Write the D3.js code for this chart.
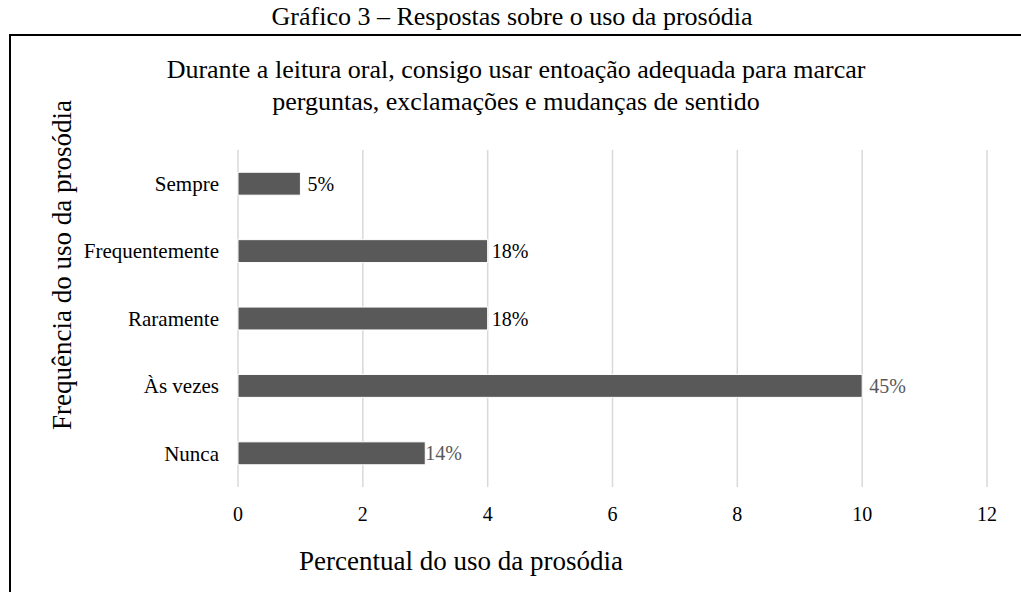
<!DOCTYPE html>
<html>
<head>
<meta charset="utf-8">
<script src="https://cdn.jsdelivr.net/npm/d3@7"></script>
<style>
  body { margin: 0; background: #fff; }
  svg { font-family: "Liberation Serif", "Times New Roman", serif; }
</style>
</head>
<body>
<svg id="chart" width="1021" height="592"></svg>
<script>
// data
var categories = ["Sempre", "Frequentemente", "Raramente", "Às vezes", "Nunca"];
var values = [1, 4, 4, 10, 3];
var percentLabels = ["5%", "18%", "18%", "45%", "14%"];
var xTicks = [0, 2, 4, 6, 8, 10, 12];

var caption = "Gráfico 3 – Respostas sobre o uso da prosódia";
var titleLines = ["Durante a leitura oral, consigo usar entoação adequada para marcar",
                  "perguntas, exclamações e mudanças de sentido"];
var xTitle = "Percentual do uso da prosódia";
var yTitle = "Frequência do uso da prosódia";

var svg = d3.select("#chart");

var margin = {left: 238, right: 34, top: 150, bottom: 105};
var W = 1021, H = 592;

var x = d3.scaleLinear()
          .domain([0, 12])
          .range([margin.left, W - margin.right]);

var y = d3.scaleBand()
          .domain(categories)
          .range([margin.top, H - margin.bottom])
          .paddingInner(0.66)
          .paddingOuter(0.33);

// caption above the frame
svg.append("text")
   .attr("x", 512)
   .attr("y", 25)
   .attr("text-anchor", "middle")
   .style("font-size", "26px")
   .text(caption);

// frame (runs off the right and bottom edge)
svg.append("path")
   .attr("d", "M10,600 L10,35 L1030,35")
   .attr("fill", "none")
   .attr("stroke", "#000")
   .attr("stroke-width", 2);

// chart title
svg.selectAll(".title")
   .data(titleLines)
   .enter()
   .append("text")
   .attr("class", "title")
   .attr("x", 516)
   .attr("y", (d, i) => 78 + i * 32)
   .attr("text-anchor", "middle")
   .style("font-size", "26px")
   .text(d => d);

// vertical gridlines
svg.selectAll(".grid")
   .data(xTicks)
   .enter()
   .append("line")
   .attr("class", "grid")
   .attr("x1", d => x(d))
   .attr("x2", d => x(d))
   .attr("y1", margin.top)
   .attr("y2", H - margin.bottom)
   .attr("stroke", "#d9d9d9")
   .attr("stroke-width", 1.5);

// x axis tick labels
svg.selectAll(".xtick")
   .data(xTicks)
   .enter()
   .append("text")
   .attr("class", "xtick")
   .attr("x", d => x(d))
   .attr("y", 521)
   .attr("text-anchor", "middle")
   .style("font-size", "20px")
   .text(d => d);

// bars
svg.selectAll(".bar")
   .data(values)
   .enter()
   .append("rect")
   .attr("class", "bar")
   .attr("x", x(0))
   .attr("y", (d, i) => y(categories[i]))
   .attr("width", d => x(d) - x(0))
   .attr("height", y.bandwidth())
   .attr("fill", "#595959")
   .attr("stroke", "#fff")
   .attr("stroke-width", 1);

// category labels
svg.selectAll(".cat")
   .data(categories)
   .enter()
   .append("text")
   .attr("class", "cat")
   .attr("x", x(0) - 19)
   .attr("y", d => y(d) + y.bandwidth() / 2)
   .attr("dy", "0.35em")
   .attr("text-anchor", "end")
   .style("font-size", "21px")
   .text(d => d);

// value labels
svg.selectAll(".val")
   .data(values)
   .enter()
   .append("text")
   .attr("class", "val")
   .attr("x", d => x(d) + (d == 3 ? 0 : (d == 4 ? 4 : 7)))
   .attr("y", (d, i) => y(categories[i]) + y.bandwidth() / 2)
   .attr("dy", "0.35em")
   .attr("fill", (d, i) => (i >= 3 ? "#595959" : "#000"))
   .style("font-size", "20px")
   .text((d, i) => percentLabels[i]);

// axis titles
svg.append("text")
   .attr("x", 461)
   .attr("y", 570)
   .attr("text-anchor", "middle")
   .style("font-size", "27px")
   .text(xTitle);

svg.append("text")
   .attr("transform", "translate(71,265) rotate(-90)")
   .attr("text-anchor", "middle")
   .style("font-size", "27px")
   .text(yTitle);
</script>
</body>
</html>
